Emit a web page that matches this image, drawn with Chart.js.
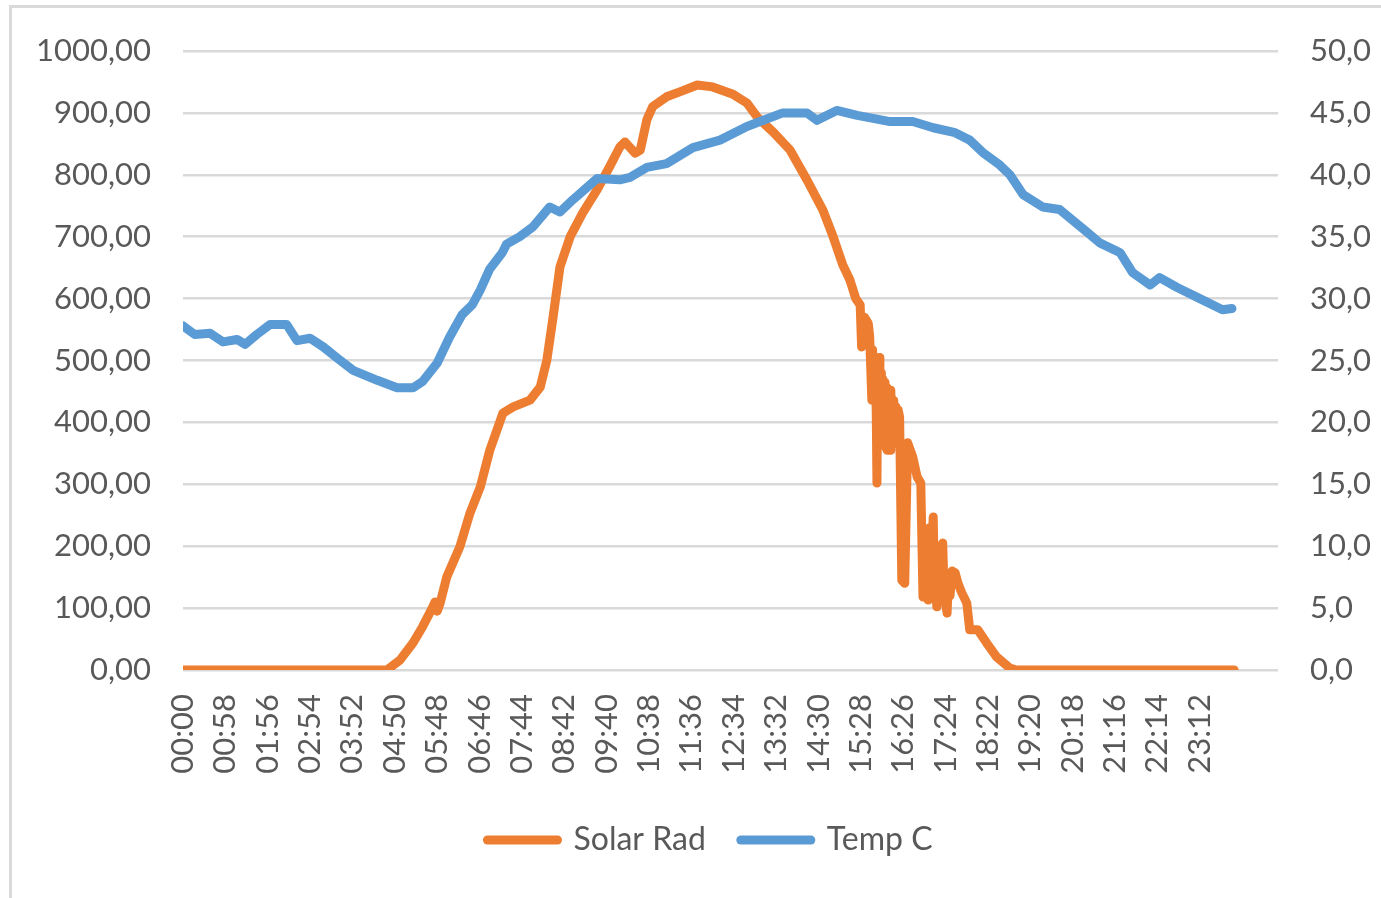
<!DOCTYPE html>
<html>
<head>
<meta charset="utf-8">
<script src="https://cdn.jsdelivr.net/npm/chart.js@4.4.1/dist/chart.umd.min.js"></script>
<style>
  html, body { margin: 0; padding: 0; background: #fff; overflow: hidden; }
  body { width: 1381px; height: 898px; position: relative; }
  #frame { position: absolute; left: 9px; top: 5px; width: 1402px; height: 910px; border: 3px solid #d9d9d9; box-sizing: border-box; }
  #chart { position: absolute; left: 10px; top: 0; }
</style>
</head>
<body>
<div id="frame"></div>
<canvas id="chart" width="1400" height="898"></canvas>
<script>
// time of day in minutes since midnight
const solarMinutes = [0, 279, 297, 315, 328, 342, 345, 348, 352, 361, 379, 393, 407, 420, 438,
  452, 475, 489, 498, 506, 516, 530, 547, 567, 584, 598, 605, 619, 626, 635, 643, 662, 680,
  704, 725, 753, 772, 787, 808, 831, 854, 876, 890, 903, 913, 921, 927, 929, 933, 938, 940,
  942, 943, 944, 946, 947, 949, 950, 951, 953, 954, 956, 957, 958, 960, 961, 962, 964, 965,
  967, 968, 969, 970, 972, 973, 975, 976, 977, 979, 981, 984, 988, 992,
  999, 1005, 1010, 1013, 1015, 1017, 1019, 1020, 1022, 1024, 1027, 1029, 1030, 1032, 1034,
  1037, 1039, 1040, 1042, 1043, 1045, 1046, 1048, 1050, 1053, 1057, 1061, 1066, 1073, 1077,
  1088, 1100, 1114, 1132, 1141, 1439];
const solarRad = [0, 0, 16, 44, 70, 102, 110, 95, 108, 150, 199, 254, 296, 355, 415,
  425, 436, 457, 500, 565, 651, 700, 738, 776, 813, 845, 853, 835, 840, 889, 910, 926, 934,
  945, 942, 930, 916, 892, 869, 840, 792, 743, 700, 655, 630, 600, 590, 522, 570, 560, 540,
  470, 436, 517, 440, 500, 420, 302, 490, 505, 400, 480, 390, 470, 380, 465, 360, 355, 455,
  370, 452, 355, 440, 365, 435, 375, 425, 390, 420, 409, 145, 140, 367,
  344, 312, 302, 118, 200, 120, 210, 113, 230, 150, 247, 120, 140, 102, 190,
  110, 200, 205, 120, 130, 100, 92, 150, 120, 160, 157, 140, 125, 108, 65,
  65, 44, 21, 3, 0, 0];

const tempMinutes = [0, 16, 37, 55, 74, 85, 101, 119, 142, 156, 174, 192, 211, 233, 266,
  293, 315, 328, 348, 365, 382, 396, 407, 420, 437, 443, 461, 479, 502, 516, 534, 567, 598,
  612, 635, 662, 698, 735, 772, 790, 821, 854, 868, 895, 923, 968, 999, 1027, 1057, 1077,
  1095, 1118, 1132, 1150, 1177, 1200, 1237, 1255, 1283, 1300, 1324, 1337, 1361, 1392, 1423, 1436];
const tempC = [27.8, 27.1, 27.2, 26.5, 26.7, 26.3, 27.1, 27.9, 27.9, 26.6, 26.8, 26.1, 25.2, 24.2, 23.4,
  22.8, 22.8, 23.3, 24.8, 26.9, 28.7, 29.5, 30.7, 32.4, 33.7, 34.4, 35.0, 35.8, 37.4, 37.0, 38.0, 39.7, 39.6,
  39.8, 40.6, 40.9, 42.2, 42.8, 43.9, 44.3, 45.0, 45.0, 44.4, 45.2, 44.8, 44.3, 44.3, 43.8, 43.4, 42.8,
  41.8, 40.8, 40.0, 38.4, 37.4, 37.2, 35.4, 34.5, 33.7, 32.1, 31.1, 31.7, 30.9, 30.0, 29.1, 29.2];

const timeLabels = ['00:00', '00:58', '01:56', '02:54', '03:52', '04:50', '05:48', '06:46',
  '07:44', '08:42', '09:40', '10:38', '11:36', '12:34', '13:32', '14:30', '15:28', '16:26',
  '17:24', '18:22', '19:20', '20:18', '21:16', '22:14', '23:12'];

const toMinutes = t => {
  const [h, m] = t.split(':').map(Number);
  return h * 60 + m;
};

const textColor = '#595959';
const tickFont = { family: 'Lato', size: 31 };

new Chart(document.getElementById('chart'), {
  type: 'line',
  data: {
    datasets: [{
      label: 'Solar Rad',
      data: solarMinutes.map((m, i) => ({ x: m, y: solarRad[i] })),
      borderColor: '#ED7D31',
      backgroundColor: '#ED7D31',
      borderWidth: 9,
      borderJoinStyle: 'round',
      borderCapStyle: 'round',
      pointRadius: 0,
      yAxisID: 'ySolar',
      order: 1
    }, {
      label: 'Temp C',
      data: tempMinutes.map((m, i) => ({ x: m, y: tempC[i] })),
      borderColor: '#5B9BD5',
      backgroundColor: '#5B9BD5',
      borderWidth: 9,
      borderJoinStyle: 'round',
      borderCapStyle: 'round',
      pointRadius: 0,
      yAxisID: 'yTemp',
      order: 0
    }]
  },
  options: {
    responsive: false,
    animation: false,
    layout: { padding: { top: 51, bottom: 32, left: 0, right: 0 } },
    plugins: {
      tooltip: { enabled: false },
      legend: {
        position: 'bottom',
        labels: {
          usePointStyle: true,
          pointStyle: 'line',
          pointStyleWidth: 70,
          color: textColor,
          font: { family: 'Lato', size: 32 },
          padding: 35,
          sort: (a, b) => a.datasetIndex - b.datasetIndex,
          generateLabels: chart => Chart.defaults.plugins.legend.labels.generateLabels(chart)
            .map(item => Object.assign(item, { lineCap: 'round', lineWidth: 9 }))
        }
      }
    },
    scales: {
      x: {
        type: 'linear',
        min: 0,
        max: 1499,
        grid: { display: false, drawTicks: false },
        border: { display: false },
        afterBuildTicks: scale => {
          scale.ticks = timeLabels.map(t => ({ value: toMinutes(t) }));
        },
        afterFit: scale => { scale.height = 119; },
        ticks: {
          autoSkip: false,
          minRotation: 90,
          maxRotation: 90,
          padding: 24,
          color: textColor,
          font: tickFont,
          callback: value => timeLabels.find(t => toMinutes(t) === value)
        }
      },
      ySolar: {
        position: 'left',
        min: 0,
        max: 1000,
        afterFit: scale => { scale.width = 173; },
        grid: { color: '#d9d9d9', lineWidth: 2.5, drawTicks: false },
        border: { display: false },
        ticks: {
          stepSize: 100,
          padding: 32,
          color: textColor,
          font: tickFont,
          callback: v => v.toFixed(2).replace('.', ',')
        }
      },
      yTemp: {
        position: 'right',
        min: 0,
        max: 50,
        afterFit: scale => { scale.width = 132; },
        grid: { display: false, drawTicks: false },
        border: { display: false },
        ticks: {
          stepSize: 5,
          padding: 32,
          color: textColor,
          font: tickFont,
          callback: v => v.toFixed(1).replace('.', ',')
        }
      }
    }
  }
});
</script>
</body>
</html>
